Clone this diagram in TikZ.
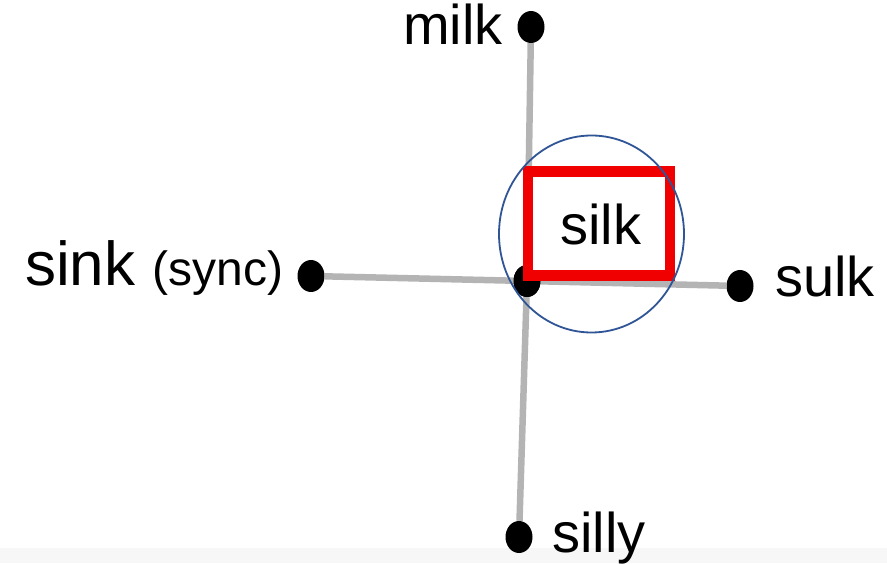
\documentclass[tikz,border=0pt]{standalone}
\usepackage{fontspec}
\setmainfont{Liberation Sans}
\usetikzlibrary{shapes.geometric}
\begin{document}
\begin{tikzpicture}[x=1pt,y=1pt,
  dot/.style={ellipse,fill=black,inner sep=0pt,minimum width=27pt,minimum height=32pt},
  conn/.style={draw=grayline,line width=6.5pt},
  lbl/.style={inner sep=0pt,font=\fontsize{56}{60}\selectfont}]
\definecolor{grayline}{HTML}{B4B4B4}
\definecolor{boxred}{HTML}{F00000}
\definecolor{ringblue}{HTML}{2F5597}
\useasboundingbox (0,0) rectangle (887,563);
\fill[white] (0,0) rectangle (887,563);
\fill[black!3] (0,0) rectangle (887,15);
% dots
\node[dot] (c) at (527,282) {};
\node[dot] (milk) at (531,536) {};
\node[dot] (silly) at (519,26) {};
\node[dot] (sink) at (311,287) {};
\node[dot] (sulk) at (740,277) {};
% connectors
\draw[conn] (milk) -- (c);
\draw[conn] (c) -- (silly);
\draw[conn] (sink) -- (c);
\draw[conn] (c) -- (sulk);
% redraw center dot over lines
\node[dot] at (c) {};
% red box
\node[draw=boxred,fill=white,line width=10.5pt,minimum width=142pt,minimum height=104pt,inner sep=0pt] (box) at (599,339.5) {};
\node[lbl,anchor=base west] (silk) at (560,318) {silk};
% ring
\draw[ringblue,line width=1.8pt] (591.5,329) ellipse [x radius=92.5pt,y radius=98.5pt];
% labels
\node[lbl,anchor=base east] (tmilk) at (503,518) {milk};
\node[inner sep=0pt,anchor=base west] (tsink) at (25,277) {\fontsize{62}{62}\selectfont sink \fontsize{48}{50}\selectfont(sync)};
\node[lbl,anchor=base west] (tsulk) at (775,266) {sulk};
\node[lbl,anchor=base west] (tsilly) at (552,11) {silly};
\end{tikzpicture}
\end{document}
